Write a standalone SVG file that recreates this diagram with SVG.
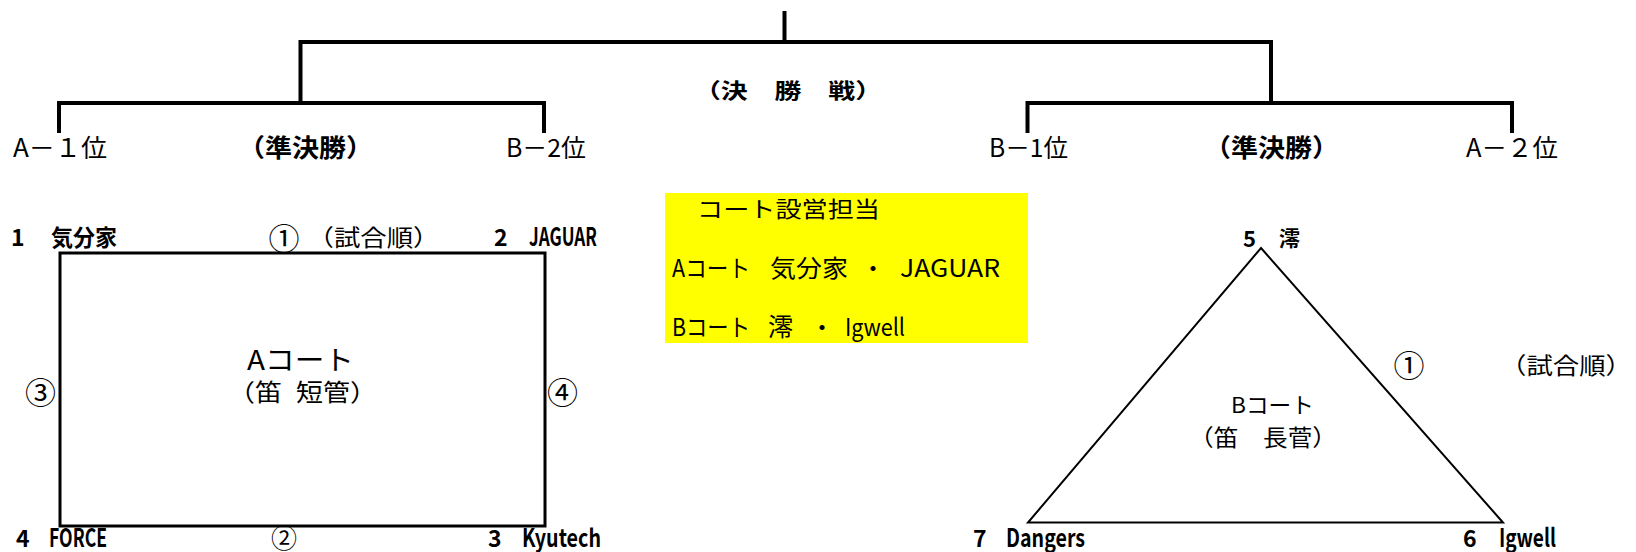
<svg xmlns="http://www.w3.org/2000/svg" width="1636" height="552" viewBox="0 0 1636 552">
<style>
text{font-family:"Noto Sans CJK JP","Noto Sans CJK SC",sans-serif;fill:#000}
.b{font-weight:bold}
.br{fill:none;stroke:#000;stroke-width:4;stroke-linejoin:miter}
.court{fill:none;stroke:#000}
.c{font-size:31px;text-anchor:middle}
</style>
<rect width="1636" height="552" fill="#fff"/>
<g id="connectors">
<path class="br" d="M784.5 11V42"/>
<path class="br" d="M300.5 103V42H1271V103"/>
<path class="br" d="M59 133V103H544V133"/>
<path class="br" d="M1027.5 133V103H1512V133"/>
</g>
<g id="final"><text class="b" x="694" y="98" font-size="21" textLength="188" lengthAdjust="spacingAndGlyphs">（決　勝　戦）</text></g>
<g id="semi-left">
<text x="13" y="157" font-size="25" textLength="94" lengthAdjust="spacingAndGlyphs">A－１位</text>
<text class="b" x="238" y="157" font-size="25" textLength="135" lengthAdjust="spacingAndGlyphs">（準決勝）</text>
<text x="506" y="157" font-size="25" textLength="80" lengthAdjust="spacingAndGlyphs">B－2位</text>
</g>
<g id="semi-right">
<text x="989" y="157" font-size="25" textLength="79" lengthAdjust="spacingAndGlyphs">B－1位</text>
<text class="b" x="1204" y="157" font-size="25" textLength="135" lengthAdjust="spacingAndGlyphs">（準決勝）</text>
<text x="1466" y="157" font-size="25" textLength="92" lengthAdjust="spacingAndGlyphs">A－２位</text>
</g>
<g id="court-a">
<rect class="court" x="60" y="253" width="485" height="273" stroke-width="3"/>
<text class="b" x="11" y="246" font-size="23">1</text>
<text class="b" x="51" y="246" font-size="23" textLength="66" lengthAdjust="spacingAndGlyphs">気分家</text>
<text class="c" x="284" y="250">①</text>
<text x="307.5" y="246" font-size="23" textLength="132" lengthAdjust="spacingAndGlyphs">（試合順）</text>
<text class="b" x="494" y="246" font-size="23">2</text>
<text class="b" x="529" y="246" font-size="25" textLength="68" lengthAdjust="spacingAndGlyphs">JAGUAR</text>
<text x="247" y="370" font-size="27" textLength="107" lengthAdjust="spacingAndGlyphs">Aコート</text>
<text x="228" y="401" font-size="24" textLength="54" lengthAdjust="spacingAndGlyphs">（笛</text>
<text x="296" y="401" font-size="24" textLength="81" lengthAdjust="spacingAndGlyphs">短管）</text>
<text class="c" x="40.5" y="404">③</text>
<text class="c" x="562.5" y="404">④</text>
<text class="b" x="16" y="547" font-size="23">4</text>
<text class="b" x="49" y="547" font-size="25" textLength="58" lengthAdjust="spacingAndGlyphs">FORCE</text>
<text x="284" y="548" font-size="26" text-anchor="middle">②</text>
<text class="b" x="488" y="547" font-size="23">3</text>
<text class="b" x="522" y="547" font-size="25" textLength="79" lengthAdjust="spacingAndGlyphs">Kyutech</text>
</g>
<g id="duty">
<rect x="665" y="193" width="363" height="150" fill="#ffff00"/>
<text x="697" y="217" font-size="22" textLength="183" lengthAdjust="spacingAndGlyphs">コート設営担当</text>
<text x="672" y="277" font-size="24" textLength="78" lengthAdjust="spacingAndGlyphs">Aコート</text>
<text x="770" y="277" font-size="24" textLength="78" lengthAdjust="spacingAndGlyphs">気分家</text>
<text x="873" y="277" font-size="24" text-anchor="middle">・</text>
<text x="900" y="277" font-size="24" textLength="100" lengthAdjust="spacingAndGlyphs">JAGUAR</text>
<text x="672" y="336" font-size="24" textLength="78" lengthAdjust="spacingAndGlyphs">Bコート</text>
<text x="768" y="336" font-size="25">澪</text>
<text x="822" y="336" font-size="24" text-anchor="middle">・</text>
<text x="845" y="336" font-size="24" textLength="60" lengthAdjust="spacingAndGlyphs">Igwell</text>
</g>
<g id="court-b">
<polygon class="court" points="1261,248 1503,522.5 1028,522.5" stroke-width="2"/>
<text class="b" x="1243" y="247" font-size="22">5</text>
<text class="b" x="1279" y="246" font-size="21">澪</text>
<text class="c" x="1409" y="377">①</text>
<text x="1500" y="374" font-size="23" textLength="132" lengthAdjust="spacingAndGlyphs">（試合順）</text>
<text x="1231" y="413" font-size="22" textLength="83" lengthAdjust="spacingAndGlyphs">Bコート</text>
<text x="1189" y="446" font-size="23" textLength="148" lengthAdjust="spacingAndGlyphs">（笛　長菅）</text>
<text class="b" x="973" y="547" font-size="23">7</text>
<text class="b" x="1006" y="547" font-size="25" textLength="79" lengthAdjust="spacingAndGlyphs">Dangers</text>
<text class="b" x="1463" y="547" font-size="23">6</text>
<text class="b" x="1499" y="547" font-size="25" textLength="57" lengthAdjust="spacingAndGlyphs">Igwell</text>
</g>
</svg>
